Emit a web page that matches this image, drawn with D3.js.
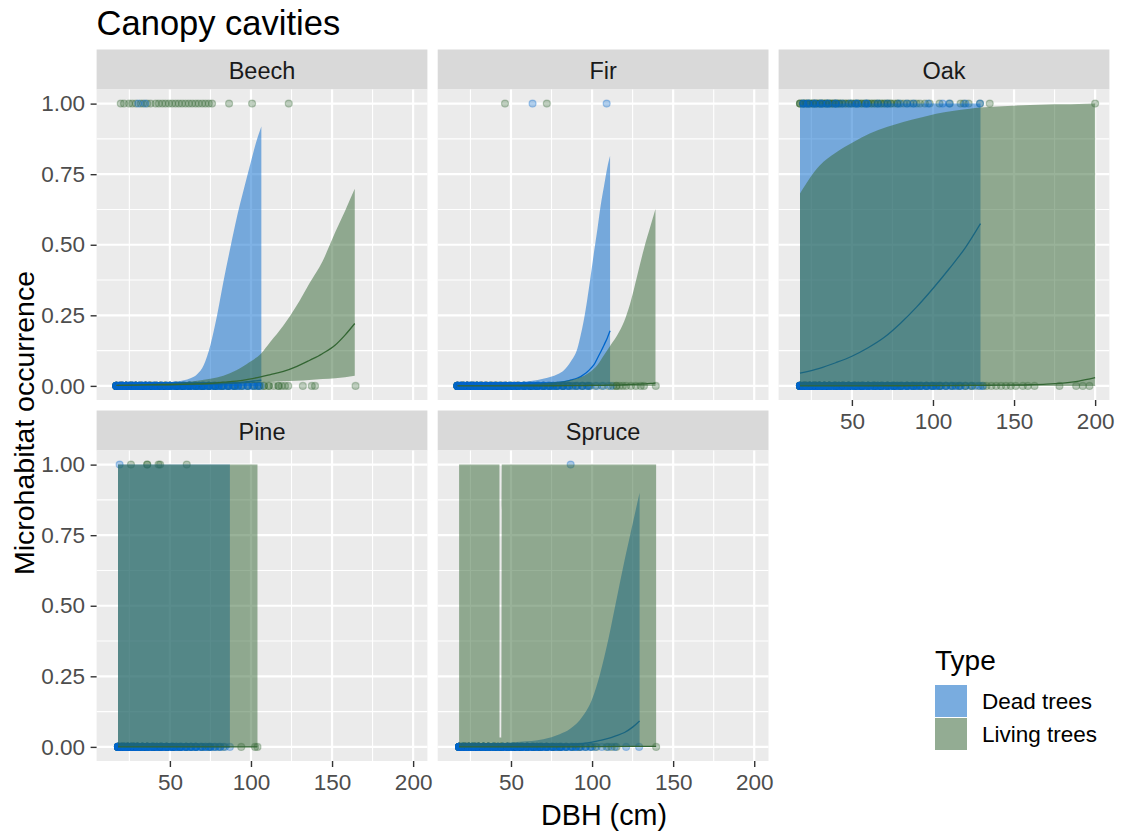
<!DOCTYPE html>
<html>
<head>
<meta charset="utf-8">
<script src="https://cdn.jsdelivr.net/npm/d3@7"></script>
<style>
  body { margin: 0; background: #ffffff; }
  text { font-family: "Liberation Sans", Arial, sans-serif; }
</style>
</head>
<body>
<svg id="chart" width="1121" height="835"></svg>
<script>
// ---- categories, ticks ----
const species = ["Beech", "Fir", "Oak", "Pine", "Spruce"];
const typeNames = ["Dead trees", "Living trees"];
const typeColors = ["#0066CC", "#336633"];
const xTicks = [50, 100, 150, 200];
const xMinor = [25, 75, 125, 175];
const yTicks = [0, 0.25, 0.5, 0.75, 1];
const yMinor = [0.125, 0.375, 0.625, 0.875];

// ---- fitted probability curves (DBH, fit, lower CI, upper CI) ----
const beechDeadDbh   = [17, 30, 40, 50, 58.6, 62.7, 66.8, 70.9, 75, 79.1, 83.2, 87.3, 91.4, 95.5, 99.6, 103, 106.4];
const beechDeadFit   = [0.0005, 0.001, 0.001, 0.002, 0.002, 0.003, 0.003, 0.004, 0.005, 0.006, 0.008, 0.009, 0.011, 0.013, 0.016, 0.018, 0.02];
const beechDeadLow   = [0, 0, 0, 0, 0, 0, 0, 0, 0, 0, 0, 0, 0, 0, 0, 0, 0];
const beechDeadUp    = [0.002, 0.004, 0.007, 0.013, 0.02, 0.027, 0.041, 0.074, 0.145, 0.25, 0.375, 0.49, 0.6, 0.695, 0.786, 0.86, 0.919];

const beechLiveDbh   = [17, 30, 50, 67, 75, 83, 91, 99, 106, 112, 120, 128, 136, 144, 152, 158, 164];
const beechLiveFit   = [0.002, 0.003, 0.004, 0.007, 0.009, 0.013, 0.017, 0.024, 0.032, 0.04, 0.051, 0.068, 0.09, 0.114, 0.145, 0.18, 0.221];
const beechLiveLow   = [0, 0.001, 0.002, 0.003, 0.004, 0.006, 0.008, 0.01, 0.012, 0.014, 0.016, 0.018, 0.021, 0.024, 0.027, 0.031, 0.036];
const beechLiveUp    = [0.004, 0.006, 0.009, 0.018, 0.025, 0.036, 0.055, 0.084, 0.113, 0.156, 0.214, 0.283, 0.363, 0.44, 0.545, 0.62, 0.698];

const firDeadDbh     = [17, 50, 58, 66.4, 74.6, 78.7, 82.8, 86.9, 91, 93, 95.1, 97.1, 99.2, 101.2, 103.3, 105.3, 107.4, 109.4, 111.1];
const firDeadFit     = [0.0003, 0.002, 0.003, 0.006, 0.009, 0.012, 0.015, 0.021, 0.028, 0.033, 0.041, 0.05, 0.062, 0.075, 0.098, 0.12, 0.145, 0.17, 0.195];
const firDeadLow     = [0, 0, 0, 0, 0, 0, 0, 0, 0, 0, 0, 0, 0, 0, 0, 0, 0, 0, 0];
const firDeadUp      = [0.003, 0.011, 0.015, 0.021, 0.032, 0.041, 0.056, 0.086, 0.133, 0.18, 0.239, 0.309, 0.392, 0.474, 0.556, 0.639, 0.709, 0.774, 0.815];

const firLiveDbh     = [17, 50, 66.4, 76.6, 86.9, 95.1, 99.2, 103.3, 107.4, 111.5, 115.6, 119.7, 123.8, 127.9, 132, 136.1, 139.1];
const firLiveFit     = [0, 0, 0, 0.0005, 0.001, 0.001, 0.0015, 0.002, 0.002, 0.003, 0.003, 0.004, 0.005, 0.006, 0.007, 0.009, 0.01];
const firLiveLow     = [0, 0, 0, 0, 0, 0, 0, 0, 0, 0, 0, 0, 0, 0, 0, 0, 0];
const firLiveUp      = [0.002, 0.005, 0.008, 0.013, 0.021, 0.036, 0.051, 0.074, 0.109, 0.145, 0.18, 0.227, 0.298, 0.392, 0.486, 0.568, 0.627];

const oakDeadDbh     = [18, 30, 40, 50, 60, 70, 80, 90, 100, 110, 120, 129.3];
const oakDeadFit     = [0.045, 0.062, 0.082, 0.105, 0.135, 0.172, 0.222, 0.28, 0.345, 0.415, 0.49, 0.575];
const oakDeadLow     = [0, 0, 0, 0, 0, 0, 0, 0, 0, 0, 0, 0];
const oakDeadUp      = [0.996, 0.998, 0.999, 1, 1, 1, 1, 1, 1, 1, 1, 1];

const oakLiveDbh     = [18, 30, 40, 51, 61, 71.5, 81.7, 92, 102, 112, 122.7, 129.3, 140, 160, 170, 180, 190, 200];
const oakLiveFit     = [0.0001, 0.0001, 0.0002, 0.0002, 0.0003, 0.0004, 0.0005, 0.0007, 0.0009, 0.0012, 0.0016, 0.002, 0.0025, 0.004, 0.006, 0.01, 0.017, 0.029];
const oakLiveLow     = [0, 0, 0, 0, 0, 0, 0, 0, 0, 0, 0, 0, 0, 0, 0, 0, 0, 0];
const oakLiveUp      = [0.682, 0.78, 0.826, 0.864, 0.894, 0.917, 0.935, 0.95, 0.964, 0.974, 0.982, 0.986, 0.99, 0.995, 0.997, 0.998, 0.999, 1];

const pineDeadDbh    = [18, 40, 60, 87];
const pineDeadFit    = [0, 0, 0, 0];
const pineDeadLow    = [0, 0, 0, 0];
const pineDeadUp     = [1, 1, 1, 1];

const pineLiveDbh    = [18, 40, 60, 80, 104];
const pineLiveFit    = [0, 0, 0, 0, 0];
const pineLiveLow    = [0, 0, 0, 0, 0];
const pineLiveUp     = [1, 1, 1, 1, 1];

const spruceDeadDbh  = [18, 40, 55.5, 69.9, 80, 86.3, 94.4, 100, 105, 110, 115, 120, 125, 129.3];
const spruceDeadFit  = [0, 0.001, 0.002, 0.003, 0.006, 0.008, 0.012, 0.017, 0.023, 0.03, 0.04, 0.051, 0.07, 0.092];
const spruceDeadLow  = [0, 0, 0, 0, 0, 0, 0, 0, 0, 0, 0, 0, 0, 0];
const spruceDeadUp   = [0.005, 0.012, 0.018, 0.027, 0.045, 0.063, 0.11, 0.169, 0.26, 0.38, 0.52, 0.66, 0.79, 0.9];

const spruceLiveDbh  = [18, 42.9, 43.0, 44.2, 44.3, 80, 110, 139.5];
const spruceLiveFit  = [0, 0, 0, 0, 0, 0, 0.001, 0.002];
const spruceLiveLow  = [0, 0, 0, 0, 0, 0, 0, 0];
const spruceLiveUp   = [1, 1, 0.033, 0.033, 1, 1, 1, 1];

// ---- observed trees: [DBH, number of trees] with / without the microhabitat ----
const beechDeadYes  = [[30.5, 1], [34.8, 1]];
const beechDeadNo   = [[17, 8], [19, 10], [21, 10], [23, 10], [25, 10], [27, 10], [29, 10], [31, 9], [33, 9], [35, 9], [37, 9], [40, 8], [42, 8], [45, 8], [48, 7], [50, 7], [53, 7], [56, 6], [59, 6], [62, 6], [65, 5], [68, 5], [71, 5], [74, 4], [77, 4], [80, 4], [83, 3], [86, 3], [89, 3], [92, 3], [95, 2], [98, 2], [101, 2], [104, 2], [106, 1]];
const beechLiveYes  = [[19.7, 1], [21.7, 1], [24.8, 1], [26.8, 1], [29, 1], [32, 1], [33.5, 1], [36, 1], [38.1, 1], [41.2, 1], [43.2, 1], [45.3, 1], [47.3, 1], [49.4, 1], [51.4, 1], [53.5, 1], [55.5, 1], [57.5, 1], [59.6, 1], [61.7, 1], [63.7, 1], [65.8, 1], [67.8, 1], [69.9, 1], [71.9, 1], [74, 1], [76, 1], [86.5, 1], [100.7, 1], [123.3, 1]];
const beechLiveNo   = [[17, 8], [20, 10], [23, 10], [26, 10], [29, 10], [32, 9], [35, 9], [38, 9], [41, 8], [44, 8], [47, 8], [50, 7], [54, 7], [58, 6], [62, 6], [66, 5], [70, 5], [74, 4], [78, 4], [82, 3], [86, 3], [90, 3], [94, 2], [98, 2], [102, 2], [105, 2], [108, 2], [111, 2], [114, 1], [117, 2], [119, 1], [121, 1], [123, 1], [132, 1], [137.5, 1], [139.5, 1], [164.5, 1]];

const firDeadYes    = [[63.3, 1], [109, 1]];
const firDeadNo     = [[17, 8], [19, 10], [21, 10], [23, 10], [25, 10], [27, 10], [29, 9], [31, 9], [34, 9], [37, 8], [40, 8], [43, 8], [46, 7], [49, 7], [52, 7], [55, 6], [58, 6], [61, 5], [64, 5], [67, 5], [70, 4], [73, 4], [76, 4], [79, 3], [82, 3], [85, 3], [88, 2], [91, 2], [94, 2], [97, 2], [99, 1], [103, 1], [107, 1], [111.5, 1]];
const firLiveYes    = [[46.3, 1], [72.1, 1]];
const firLiveNo     = [[17, 8], [20, 10], [23, 10], [26, 9], [29, 9], [32, 9], [35, 8], [38, 8], [41, 8], [44, 7], [47, 7], [50, 6], [54, 6], [58, 5], [62, 5], [66, 4], [70, 4], [74, 3], [78, 3], [82, 3], [86, 2], [90, 2], [94, 2], [98, 2], [102, 1], [106, 1], [110, 1], [113, 1], [115, 2], [117, 1], [119, 1], [121, 1], [124, 1], [127, 1], [130, 1], [132, 1], [139.3, 1]];

const oakDeadYes    = [[20, 2], [23, 2], [27, 2], [31, 2], [35, 2], [40, 2], [44, 1], [49, 1], [53, 2], [59, 2], [66, 1], [72, 1], [79, 1], [84, 1], [88, 1], [97, 1], [106, 1], [110, 1], [120, 1], [129, 1]];
const oakDeadNo     = [[18, 8], [20, 9], [22, 9], [24, 9], [26, 9], [28, 9], [30, 9], [33, 9], [36, 8], [39, 8], [42, 8], [45, 8], [48, 7], [51, 7], [54, 7], [57, 7], [60, 6], [63, 6], [66, 6], [69, 5], [72, 5], [75, 5], [78, 5], [81, 4], [84, 4], [87, 4], [90, 4], [93, 3], [96, 3], [99, 3], [102, 3], [105, 2], [108, 2], [111, 2], [114, 2], [117, 2], [120, 1], [123, 1], [126, 1], [129, 1], [130.5, 1]];
const oakLiveYes    = [[18, 3], [20, 3], [22, 3], [24, 3], [26, 3], [28, 3], [30, 3], [32, 3], [34, 3], [36, 3], [38, 3], [40, 3], [42, 3], [44, 2], [46, 2], [48, 2], [50, 2], [52, 2], [54, 2], [56, 2], [58, 2], [60, 2], [62, 2], [64, 2], [66, 2], [68, 2], [70, 2], [72, 2], [74, 2], [76, 1], [78, 2], [80, 1], [82, 1], [84, 1], [86, 1], [88, 1], [90, 1], [92, 1], [95, 1], [98, 1], [104, 1], [110.4, 1], [117, 1], [119, 1], [122, 1], [129, 1], [135, 1], [200, 1]];
const oakLiveNo     = [[18, 8], [21, 9], [24, 9], [27, 9], [30, 9], [33, 8], [36, 8], [40, 8], [44, 7], [48, 7], [52, 7], [56, 6], [60, 6], [64, 6], [68, 5], [72, 5], [76, 5], [80, 4], [84, 4], [88, 4], [92, 3], [96, 3], [100, 3], [104, 3], [108, 2], [112, 2], [116, 2], [120, 2], [124, 2], [128, 1], [131, 1], [133, 1], [136, 1], [139, 1], [142, 1], [145, 1], [148, 1], [151, 1], [155.4, 1], [158.5, 1], [162.6, 1], [178, 1], [188.3, 1], [192.4, 1], [196.5, 1]];

const pineDeadYes   = [[19, 1]];
const pineDeadNo    = [[18, 10], [20, 10], [22, 10], [24, 10], [26, 9], [28, 9], [30, 9], [33, 8], [36, 8], [39, 8], [42, 7], [45, 7], [48, 6], [51, 6], [54, 5], [57, 5], [60, 4], [63, 4], [66, 4], [69, 3], [72, 3], [75, 3], [78, 2], [81, 2], [84, 1], [87, 1]];
const pineLiveYes   = [[26, 1], [36, 2], [43, 1], [44, 1], [60.4, 1]];
const pineLiveNo    = [[18, 6], [21, 7], [24, 7], [27, 7], [30, 6], [33, 6], [36, 6], [40, 5], [44, 5], [48, 4], [52, 4], [56, 3], [60, 3], [63, 2], [66, 2], [70, 2], [74, 2], [77, 1], [80, 1], [83, 1], [94, 1], [102.5, 1], [104, 1]];

const spruceDeadYes = [[86.8, 1]];
const spruceDeadNo  = [[18, 10], [20, 10], [22, 10], [24, 10], [26, 10], [28, 10], [30, 10], [33, 9], [36, 9], [39, 9], [42, 8], [45, 8], [48, 8], [51, 7], [54, 7], [57, 7], [60, 6], [63, 6], [66, 6], [69, 5], [72, 5], [75, 4], [78, 4], [81, 4], [84, 3], [87, 3], [90, 3], [93, 2], [96, 2], [99, 2], [102, 1], [106, 1], [110, 1], [114, 1], [121, 1], [129, 1]];
const spruceLiveYes = [];
const spruceLiveNo  = [[18, 8], [21, 9], [24, 9], [27, 9], [30, 8], [33, 8], [36, 8], [40, 7], [44, 7], [48, 6], [52, 6], [56, 5], [60, 5], [64, 4], [68, 4], [72, 3], [76, 3], [80, 3], [84, 2], [88, 2], [92, 2], [96, 1], [100, 1], [102.7, 1], [109, 1], [112, 1], [115, 1], [139.5, 1]];

// ---- assemble per-panel tables ----
function curve(dbh, fit, low, up) {
  return dbh.map((d, i) => ({ x: d, fit: fit[i], lo: low[i], hi: up[i] }));
}
const curves = {
  Beech:  [curve(beechDeadDbh, beechDeadFit, beechDeadLow, beechDeadUp),     curve(beechLiveDbh, beechLiveFit, beechLiveLow, beechLiveUp)],
  Fir:    [curve(firDeadDbh, firDeadFit, firDeadLow, firDeadUp),             curve(firLiveDbh, firLiveFit, firLiveLow, firLiveUp)],
  Oak:    [curve(oakDeadDbh, oakDeadFit, oakDeadLow, oakDeadUp),             curve(oakLiveDbh, oakLiveFit, oakLiveLow, oakLiveUp)],
  Pine:   [curve(pineDeadDbh, pineDeadFit, pineDeadLow, pineDeadUp),         curve(pineLiveDbh, pineLiveFit, pineLiveLow, pineLiveUp)],
  Spruce: [curve(spruceDeadDbh, spruceDeadFit, spruceDeadLow, spruceDeadUp), curve(spruceLiveDbh, spruceLiveFit, spruceLiveLow, spruceLiveUp)]
};
const trees = {
  Beech:  [[beechDeadYes, beechDeadNo],   [beechLiveYes, beechLiveNo]],
  Fir:    [[firDeadYes, firDeadNo],       [firLiveYes, firLiveNo]],
  Oak:    [[oakDeadYes, oakDeadNo],       [oakLiveYes, oakLiveNo]],
  Pine:   [[pineDeadYes, pineDeadNo],     [pineLiveYes, pineLiveNo]],
  Spruce: [[spruceDeadYes, spruceDeadNo], [spruceLiveYes, spruceLiveNo]]
};

// ---- layout ----
const svg = d3.select("#chart");
const panelW = 330.8, panelH = 310.5, stripH = 40;
const colLeft = [96.6, 437.7, 778.6];
const rowStripTop = [49.5, 410.5];
const grid = { Beech: [0, 0], Fir: [0, 1], Oak: [0, 2], Pine: [1, 0], Spruce: [1, 1] };
const withXAxis = { Oak: true, Pine: true, Spruce: true };

const x = d3.scaleLinear().domain([4.8, 208.8]).range([0, panelW]);
const y = d3.scaleLinear().domain([-0.05, 1.05]).range([panelH, 0]);

svg.append("rect").attr("width", 1121).attr("height", 835).attr("fill", "#ffffff");

const defs = svg.append("defs");
defs.append("clipPath").attr("id", "panel-clip")
  .append("rect").attr("width", panelW).attr("height", panelH);

species.forEach(sp => {
  const [row, col] = grid[sp];
  const g = svg.append("g")
    .attr("transform", `translate(${colLeft[col]},${rowStripTop[row] + stripH})`);

  // strip
  g.append("rect").attr("x", 0).attr("y", -stripH).attr("width", panelW).attr("height", stripH)
    .attr("fill", "#D9D9D9");
  g.append("text").attr("x", panelW / 2).attr("y", -stripH + 29.8)
    .attr("text-anchor", "middle").attr("font-size", 23.5).attr("fill", "#1A1A1A").text(sp);

  // panel background and grid
  g.append("rect").attr("width", panelW).attr("height", panelH).attr("fill", "#EBEBEB");
  xMinor.forEach(v => g.append("line").attr("x1", x(v)).attr("x2", x(v)).attr("y1", 0).attr("y2", panelH)
    .attr("stroke", "#ffffff").attr("stroke-width", 1.1));
  yMinor.forEach(v => g.append("line").attr("x1", 0).attr("x2", panelW).attr("y1", y(v)).attr("y2", y(v))
    .attr("stroke", "#ffffff").attr("stroke-width", 1.1));
  xTicks.forEach(v => g.append("line").attr("x1", x(v)).attr("x2", x(v)).attr("y1", 0).attr("y2", panelH)
    .attr("stroke", "#ffffff").attr("stroke-width", 2.2));
  yTicks.forEach(v => g.append("line").attr("x1", 0).attr("x2", panelW).attr("y1", y(v)).attr("y2", y(v))
    .attr("stroke", "#ffffff").attr("stroke-width", 2.2));

  const plot = g.append("g").attr("clip-path", "url(#panel-clip)");

  // observed trees (0 = absent, 1 = present)
  [1, 0].forEach(t => {
    const [yes, no] = trees[sp][t];
    const pts = [];
    no.forEach(([d, n]) => { for (let k = 0; k < n; k++) pts.push({ x: d, v: 0 }); });
    yes.forEach(([d, n]) => { for (let k = 0; k < n; k++) pts.push({ x: d, v: 1 }); });
    plot.append("g").selectAll("circle").data(pts).join("circle")
      .attr("cx", d => x(d.x)).attr("cy", d => y(d.v)).attr("r", 3.5)
      .attr("fill", typeColors[t]).attr("fill-opacity", 0.3)
      .attr("stroke", typeColors[t]).attr("stroke-opacity", 0.3).attr("stroke-width", 1.2);
  });

  // confidence band and fitted curve, one type after the other
  [0, 1].forEach(t => {
    const c = curves[sp][t];
    const area = d3.area().x(d => x(d.x)).y0(d => y(d.lo)).y1(d => y(d.hi)).curve(d3.curveMonotoneX);
    const line = d3.line().x(d => x(d.x)).y(d => y(d.fit)).curve(d3.curveMonotoneX);
    plot.append("path").attr("d", area(c)).attr("fill", typeColors[t]).attr("fill-opacity", 0.5);
    plot.append("path").attr("d", line(c)).attr("fill", "none")
      .attr("stroke", typeColors[t]).attr("stroke-width", 1.3);
  });

  // axes
  if (col === 0) {
    const ax = g.append("g").call(d3.axisLeft(y).tickValues(yTicks).tickFormat(d3.format(".2f"))
      .tickSize(6).tickPadding(5.5));
    styleAxis(ax);
  }
  if (withXAxis[sp]) {
    const ax = g.append("g").attr("transform", `translate(0,${panelH})`)
      .call(d3.axisBottom(x).tickValues(xTicks).tickSize(6).tickPadding(7.5));
    styleAxis(ax);
  }
});

function styleAxis(ax) {
  ax.select(".domain").remove();
  ax.selectAll(".tick line").attr("stroke", "#333333").attr("stroke-width", 1.4);
  ax.selectAll(".tick text").attr("fill", "#4D4D4D").attr("font-size", 22.5)
    .attr("font-family", "'Liberation Sans', Arial, sans-serif");
}

// titles
svg.append("text").attr("x", 96.6).attr("y", 34.5).attr("font-size", 34.5).attr("fill", "#000")
  .text("Canopy cavities");
svg.append("text").attr("x", 604).attr("y", 825).attr("text-anchor", "middle")
  .attr("font-size", 28.7).attr("fill", "#000").text("DBH (cm)");
svg.append("text").attr("transform", "translate(34,423) rotate(-90)").attr("text-anchor", "middle")
  .attr("font-size", 28.5).attr("fill", "#000").text("Microhabitat occurrence");

// legend
const lg = svg.append("g").attr("transform", "translate(935,0)");
lg.append("text").attr("x", 0).attr("y", 670).attr("font-size", 28).attr("fill", "#000").text("Type");
typeNames.forEach((name, i) => {
  const top = 685 + i * 33;
  lg.append("rect").attr("x", 0).attr("y", top).attr("width", 32).attr("height", 32).attr("fill", "#F2F2F2");
  lg.append("rect").attr("x", 0).attr("y", top).attr("width", 32).attr("height", 32)
    .attr("fill", typeColors[i]).attr("fill-opacity", 0.5);
  lg.append("text").attr("x", 47).attr("y", top + 23.5).attr("font-size", 22.5).attr("fill", "#000").text(name);
});
</script>
</body>
</html>
